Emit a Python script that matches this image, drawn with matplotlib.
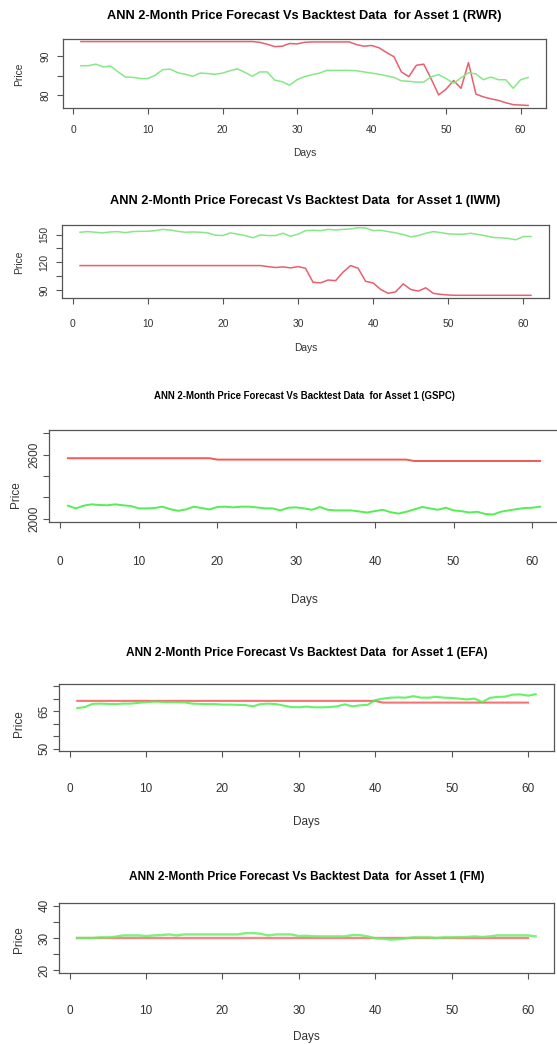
import numpy as np
import matplotlib
matplotlib.use("Agg")
import matplotlib.pyplot as plt

W, H = 557, 1045

days = np.arange(1, 62)

# RWR
rwr_forecast = [93.8, 93.8, 93.8, 93.8, 93.8, 93.8, 93.8, 93.8, 93.8, 93.8,
                93.8, 93.8, 93.8, 93.8, 93.8, 93.8, 93.8, 93.8, 93.8, 93.8,
                93.8, 93.8, 93.8, 93.8, 93.6, 93.1, 92.5, 92.6, 93.3, 93.2,
                93.6, 93.7, 93.7, 93.7, 93.7, 93.7, 93.7, 93.0, 92.6, 92.8,
                92.2, 91.0, 89.9, 86.0, 84.8, 87.7, 88.0, 84.2, 80.1, 81.6,
                83.8, 81.8, 88.4, 80.3, 79.6, 79.1, 78.7, 78.1, 77.6, 77.5, 77.4]
rwr_backtest = [87.6, 87.6, 88.0, 87.3, 87.5, 86.0, 84.7, 84.6, 84.3, 84.3,
                85.2, 86.6, 86.7, 85.8, 85.4, 84.9, 85.7, 85.6, 85.4, 85.7,
                86.3, 86.8, 85.9, 84.9, 86.0, 86.0, 83.9, 83.5, 82.6, 84.0,
                84.8, 85.3, 85.7, 86.4, 86.4, 86.4, 86.4, 86.3, 86.0, 85.7,
                85.4, 85.0, 84.6, 83.7, 83.6, 83.4, 83.4, 84.8, 85.3, 84.3,
                83.1, 84.5, 85.8, 85.5, 84.0, 84.7, 84.0, 84.0, 81.8, 84.0, 84.6]

# IWM
iwm_forecast = [116.5, 116.5, 116.5, 116.5, 116.5, 116.5, 116.5, 116.5, 116.5, 116.5,
                116.5, 116.5, 116.5, 116.5, 116.5, 116.5, 116.5, 116.5, 116.5, 116.5,
                116.5, 116.5, 116.5, 116.5, 116.5, 115.4, 114.4, 115.1, 114.0, 115.4,
                113.6, 98.5, 97.8, 100.9, 100.2, 109.4, 116.5, 113.6, 99.5, 97.8,
                90.7, 86.5, 88.2, 96.7, 90.7, 88.9, 92.5, 86.5, 85.4, 84.7,
                84.4, 84.4, 84.4, 84.4, 84.4, 84.4, 84.4, 84.4, 84.4, 84.4, 84.4]
iwm_backtest = [152.5, 153.2, 152.5, 151.8, 152.8, 153.2, 152.1, 153.2, 153.5, 153.5,
                154.2, 155.6, 154.9, 153.5, 152.5, 152.8, 152.5, 151.8, 149.3, 148.9,
                151.8, 150.4, 148.9, 146.5, 149.6, 148.9, 148.9, 151.4, 148.2, 150.4,
                154.2, 154.6, 154.2, 155.6, 154.9, 155.6, 156.0, 157.4, 157.1, 154.2,
                154.6, 153.2, 151.8, 150.0, 147.5, 148.9, 151.4, 153.2, 152.1, 150.7,
                150.4, 150.4, 151.4, 150.0, 148.6, 146.8, 146.5, 145.8, 144.4, 147.9, 147.9]

# GSPC
gspc_forecast = [2567, 2567, 2567, 2567, 2567, 2567, 2567, 2567, 2567, 2567,
                 2567, 2567, 2567, 2567, 2567, 2567, 2567, 2567, 2567, 2554,
                 2554, 2554, 2554, 2554, 2554, 2554, 2554, 2554, 2554, 2554,
                 2554, 2554, 2554, 2554, 2554, 2554, 2554, 2554, 2554, 2554,
                 2554, 2554, 2554, 2554, 2541, 2541, 2541, 2541, 2541, 2541,
                 2541, 2541, 2541, 2541, 2541, 2541, 2541, 2541, 2541, 2541, 2541]
gspc_backtest = [2121, 2096, 2121, 2134, 2128, 2125, 2134, 2125, 2118, 2096,
                 2096, 2099, 2112, 2089, 2073, 2086, 2112, 2099, 2086, 2109,
                 2112, 2105, 2112, 2112, 2105, 2096, 2096, 2077, 2102, 2105,
                 2096, 2083, 2109, 2083, 2077, 2077, 2077, 2067, 2057, 2070,
                 2083, 2060, 2047, 2064, 2086, 2109, 2096, 2083, 2102, 2077,
                 2070, 2057, 2064, 2044, 2038, 2064, 2077, 2089, 2099, 2102, 2112]

# EFA
efa_forecast = [69.2, 69.2, 69.2, 69.2, 69.2, 69.2, 69.2, 69.2, 69.2, 69.2,
                69.2, 69.2, 69.2, 69.2, 69.2, 69.2, 69.2, 69.2, 69.2, 69.2,
                69.2, 69.2, 69.2, 69.2, 69.2, 69.2, 69.2, 69.2, 69.2, 69.2,
                69.2, 69.2, 69.2, 69.2, 69.2, 69.2, 69.2, 69.2, 69.2, 69.2,
                68.5, 68.5, 68.5, 68.5, 68.5, 68.5, 68.5, 68.5, 68.5, 68.5,
                68.5, 68.5, 68.5, 68.5, 68.5, 68.5, 68.5, 68.5, 68.5, 68.5]
efa_backtest = [66.3, 66.7, 68.0, 68.1, 68.0, 67.9, 68.1, 68.1, 68.4, 68.7,
                68.9, 68.8, 68.7, 68.7, 68.6, 68.1, 68.0, 67.9, 67.9, 67.7,
                67.7, 67.6, 67.5, 67.0, 67.9, 68.1, 67.9, 67.3, 66.7, 66.6,
                66.9, 66.6, 66.6, 66.7, 67.0, 67.8, 67.0, 67.4, 67.6, 69.5,
                70.1, 70.5, 70.6, 70.5, 71.1, 70.5, 70.5, 70.8, 70.5, 70.4,
                70.1, 69.8, 70.1, 68.7, 70.4, 70.8, 70.9, 71.7, 71.8, 71.3, 71.9]

# FM
fm_forecast = [30.0, 30.0, 30.0, 30.0, 30.0, 30.0, 30.0, 30.0, 30.0, 30.0,
               30.0, 30.0, 30.0, 30.0, 30.0, 30.0, 30.0, 30.0, 30.0, 30.0,
               30.0, 30.0, 30.0, 30.0, 30.0, 30.0, 30.0, 30.0, 30.0, 30.0,
               30.0, 30.0, 30.0, 30.0, 30.0, 30.0, 30.0, 30.0, 30.0, 30.0,
               30.0, 30.0, 30.0, 30.0, 30.0, 30.0, 30.0, 30.0, 30.0, 30.0,
               30.0, 30.0, 30.0, 30.0, 30.0, 30.0, 30.0, 30.0, 30.0, 30.0]
fm_backtest = [30.0, 30.0, 30.0, 30.2, 30.2, 30.4, 30.8, 30.8, 30.8, 30.6,
               30.8, 30.9, 31.1, 30.8, 31.1, 31.1, 31.1, 31.1, 31.1, 31.1,
               31.1, 31.1, 31.5, 31.5, 31.3, 30.8, 31.1, 31.1, 31.1, 30.6,
               30.7, 30.5, 30.5, 30.5, 30.5, 30.5, 30.9, 30.9, 30.5, 29.9,
               29.8, 29.5, 29.6, 29.9, 30.2, 30.2, 30.2, 30.0, 30.2, 30.2,
               30.3, 30.3, 30.5, 30.3, 30.5, 30.8, 30.8, 30.8, 30.8, 30.8, 30.5]

xticks = [0, 10, 20, 30, 40, 50, 60]


def px(x0, y0, x1, y1):
    # pixel box (left, top, right, bottom) -> figure fraction rect
    return [x0 / W, 1 - y1 / H, (x1 - x0) / W, (y1 - y0) / H]


def panel(fig, box, name, fc, bt, yt, ylab, ylim, title_y, tick_y, days_y, price_xy,
          font, tsize, lsize, red, green, lw, alpha=1.0, ypad=2):
    ax = fig.add_axes(px(*box))
    ax.plot(days[:len(fc)], fc, color=red, lw=lw, alpha=alpha)
    ax.plot(days[:len(bt)], bt, color=green, lw=lw, alpha=alpha)
    ax.set_xlim(-1.4, 63.4)
    if ylim is None:
        lo, hi = min(min(fc), min(bt)), max(max(fc), max(bt))
    else:
        lo, hi = ylim
    pad = (hi - lo) * 0.04
    ax.set_ylim(lo - pad, hi + pad)
    ax.set_xticks(xticks)
    ax.set_yticks(yt)
    ax.set_yticklabels([str(v) if v in ylab else "" for v in yt],
                       rotation=90, va="center", family=font, fontsize=lsize, color="#333333")
    ax.set_xticklabels([str(v) for v in xticks], family=font, fontsize=lsize, color="#333333")
    for s in ax.spines.values():
        s.set_color("#555555")
        s.set_linewidth(0.9)
    ax.tick_params(direction="out", length=4, width=0.8, color="#555555")
    bottom = box[3]
    ax.tick_params(axis="x", pad=(tick_y - bottom - 9) * 0.72)
    ax.tick_params(axis="y", pad=ypad)
    cx = (box[0] + box[2]) / 2
    fig.text(cx / W, 1 - title_y / H,
             "ANN 2-Month Price Forecast Vs Backtest Data  for Asset 1 (%s)" % name,
             ha="center", va="center", fontsize=tsize, fontweight="bold", family=font)
    fig.text(cx / W, 1 - days_y / H, "Days", ha="center", va="center",
             fontsize=lsize, family=font, color="#333333")
    fig.text(price_xy[0] / W, 1 - price_xy[1] / H, "Price", ha="center", va="center",
             rotation=90, fontsize=lsize, family=font, color="#333333")
    return ax


fig = plt.figure(figsize=(W / 100, H / 100), dpi=100)

arial = ["Liberation Sans", "DejaVu Sans"]

panel(fig, (63, 39, 546, 108), "RWR", rwr_forecast, rwr_backtest,
      [80, 85, 90], [80, 90], None, 16, 128, 153, (19, 74),
      arial, 9.2, 7.4, "#E8606E", "#86E886", 1.1, ypad=5)
panel(fig, (62, 225, 549, 298), "IWM", iwm_forecast, iwm_backtest,
      [90, 105, 120, 135, 150], [90, 120, 150], None, 201, 322, 348, (19, 262),
      arial, 9.2, 7.4, "#E8606E", "#86E886", 1.1, ypad=5)
panel(fig, (49, 430, 559, 522), "GSPC", gspc_forecast, gspc_backtest,
      [2000, 2200, 2400, 2600, 2800], [2000, 2600], (2000, 2800), 396, 559, 600, (16, 495),
      arial, 6.9, 8.5, "#F05a5a", "#55EE55", 1.4)
panel(fig, (59, 684, 554, 751), "EFA", efa_forecast, efa_backtest,
      [50, 55, 60, 65, 70, 75], [50, 65], (50, 75), 653, 786, 822, (19, 724),
      arial, 8.6, 8.5, "#F55a5a", "#4CF04C", 1.5, 0.85)
panel(fig, (59, 903, 554, 973), "FM", fm_forecast, fm_backtest,
      [20, 25, 30, 35, 40], [20, 30, 40], (20, 40), 877, 1008, 1037, (19, 940),
      arial, 8.6, 8.5, "#F57070", "#66F066", 1.7, 0.85)

fig.savefig("out.png", dpi=100)
